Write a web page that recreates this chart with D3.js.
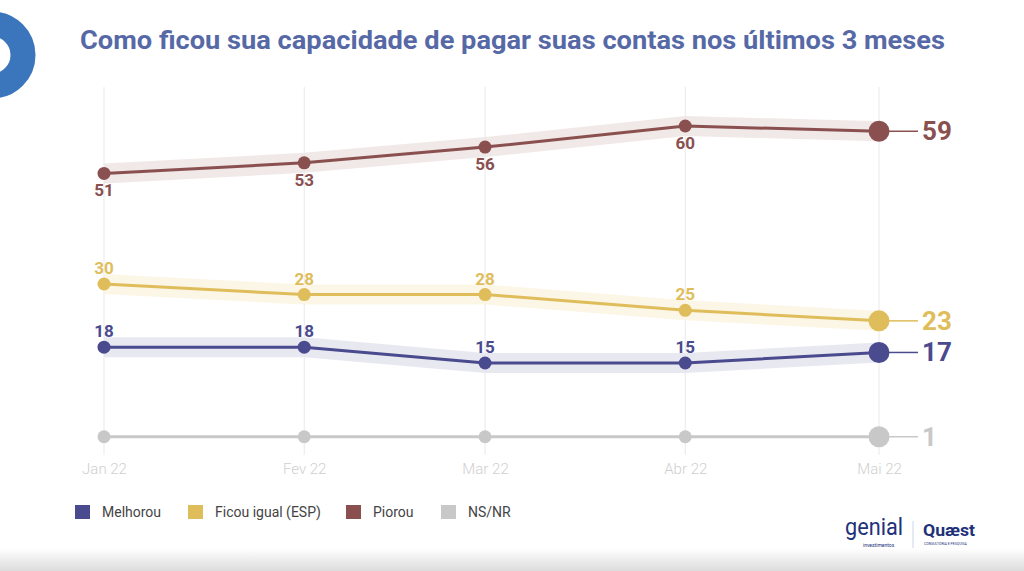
<!DOCTYPE html>
<html><head><meta charset="utf-8">
<script src="https://cdn.jsdelivr.net/npm/d3@7/dist/d3.min.js"></script>
<style>body{margin:0;background:#fff;}svg{display:block;}</style>
</head><body>
<script>
const months = ["2022-01-01","2022-02-01","2022-03-01","2022-04-01","2022-05-01"];
const tickLabels = ["Jan 22","Fev 22","Mar 22","Abr 22","Mai 22"];
const seriesNames = ["Melhorou","Ficou igual (ESP)","Piorou","NS/NR"];
const melhorou = [18,18,15,15,17];
const ficouIgual = [30,28,28,25,23];
const piorou = [51,53,56,60,59];
const nsnr = [1,1,1,1,1];
const colors = ["#4a4a8e","#e0bd5b","#8a5050","#c8c8c8"];
const bandColors = ["#e6e6ef","#fbf5e2","#efe6e6","#ececec"];
const labelPos = ["above","above","below","none"];

const W=1024,H=571;
const svg=d3.select("body").append("svg").attr("width",W).attr("height",H);
const defs=svg.append("defs");
const g1=defs.append("linearGradient").attr("id","bot").attr("x1",0).attr("x2",0).attr("y1",0).attr("y2",1);
g1.append("stop").attr("offset","0").attr("stop-color","#fff");
g1.append("stop").attr("offset","1").attr("stop-color","#dcdcdc");
svg.append("rect").attr("x",0).attr("y",548).attr("width",W).attr("height",23).attr("fill","url(#bot)");

// decorative ring
svg.append("circle").attr("cx",-8).attr("cy",55).attr("r",31).attr("fill","none").attr("stroke","#3b76bd").attr("stroke-width",25);

svg.append("text").attr("x",80).attr("y",49).attr("fill","#5669a6")
 .attr("font-family","Roboto").attr("font-weight","bold").attr("font-size",26)
 .attr("textLength",865).attr("lengthAdjust","spacingAndGlyphs")
 .text("Como ficou sua capacidade de pagar suas contas nos últimos 3 meses");

const parse=d3.utcParse("%Y-%m-%d");
const dates=months.map(parse);
const x=d3.scaleUtc().domain([dates[0],dates[4]]).range([104,879]);
const y=d3.scaleLinear().domain([0,60]).range([442,126]);

// gridlines
svg.append("g").selectAll("line").data(dates).join("line")
 .attr("x1",d=>x(d)).attr("x2",d=>x(d)).attr("y1",87).attr("y2",455)
 .attr("stroke","#e9e9e9").attr("stroke-width",1);

// axis
const ax=svg.append("g").attr("transform","translate(0,455)")
 .call(d3.axisBottom(x).tickValues(dates).tickFormat((d,i)=>tickLabels[i]).tickSize(0).tickPadding(8));
ax.select(".domain").remove();
ax.selectAll("text").attr("font-family","Roboto").attr("font-size",15).attr("fill","#cfcfcf").attr("font-weight",300);

const data=[melhorou,ficouIgual,piorou,nsnr];
const line=d3.line().x((d,i)=>x(dates[i])).y(d=>y(d));
const area=d3.area().x((d,i)=>x(dates[i])).y0(d=>y(d)-10).y1(d=>y(d)+10);

data.forEach((s,k)=>{
  if(k<3) svg.append("path").datum(s).attr("d",area).attr("fill",bandColors[k]).attr("opacity",0.9);
});
[3,2,1,0].forEach(k=>{
  const s=data[k];
  const gg=svg.append("g");
  gg.append("path").datum(s).attr("d",line).attr("fill","none").attr("stroke",colors[k]).attr("stroke-width",3);
  gg.selectAll("circle").data(s).join("circle")
    .attr("cx",(d,i)=>x(dates[i])).attr("cy",d=>y(d)).attr("r",(d,i)=>i===4?10.5:6.5).attr("fill",colors[k]);
  if(labelPos[k]!=="none"){
    gg.selectAll("text.v").data(s.slice(0,4)).join("text").attr("class","v")
     .attr("x",(d,i)=>x(dates[i])).attr("y",d=>labelPos[k]==="above"?y(d)-10:y(d)+23)
     .attr("text-anchor","middle").attr("font-family","Roboto").attr("font-weight","bold").attr("font-size",17)
     .attr("fill",colors[k]).text(d=>d);
  }
  const last=s[4];
  gg.append("line").attr("x1",x(dates[4])+10).attr("x2",918).attr("y1",y(last)).attr("y2",y(last)).attr("stroke",colors[k]).attr("stroke-width",1.5);
  gg.append("text").attr("x",922).attr("y",y(last)+9).attr("font-family","Roboto").attr("font-weight","bold")
    .attr("font-size",26).attr("fill",colors[k]).text(last);
});

// legend
const lx=[75,188,346,441];
const lg=svg.append("g");
seriesNames.forEach((n,i)=>{
  lg.append("rect").attr("x",lx[i]).attr("y",505).attr("width",15).attr("height",14).attr("fill",colors[i]);
  lg.append("text").attr("x",lx[i]+27).attr("y",517).attr("font-family","Roboto").attr("font-size",14).attr("fill","#444").text(n);
});

// logos
svg.append("text").attr("x",845).attr("y",535).attr("font-family","Roboto").attr("font-size",23).attr("fill","#22307a").attr("textLength",58).attr("lengthAdjust","spacingAndGlyphs").text("genial");
svg.append("text").attr("x",863).attr("y",547).attr("font-family","Roboto").attr("font-size",5).attr("fill","#22307a").text("investimentos");
svg.append("line").attr("x1",913).attr("x2",913).attr("y1",521).attr("y2",548).attr("stroke","#c9d6ea");
svg.append("text").attr("x",923).attr("y",536).attr("font-family","Roboto").attr("font-weight","bold").attr("font-size",17).attr("fill","#22307a").attr("textLength",52).attr("lengthAdjust","spacingAndGlyphs").text("Quæst");
svg.append("text").attr("x",924).attr("y",545).attr("font-family","Roboto").attr("font-size",3.5).attr("fill","#22307a").text("CONSULTORIA E PESQUISA");
</script>
</body></html>
